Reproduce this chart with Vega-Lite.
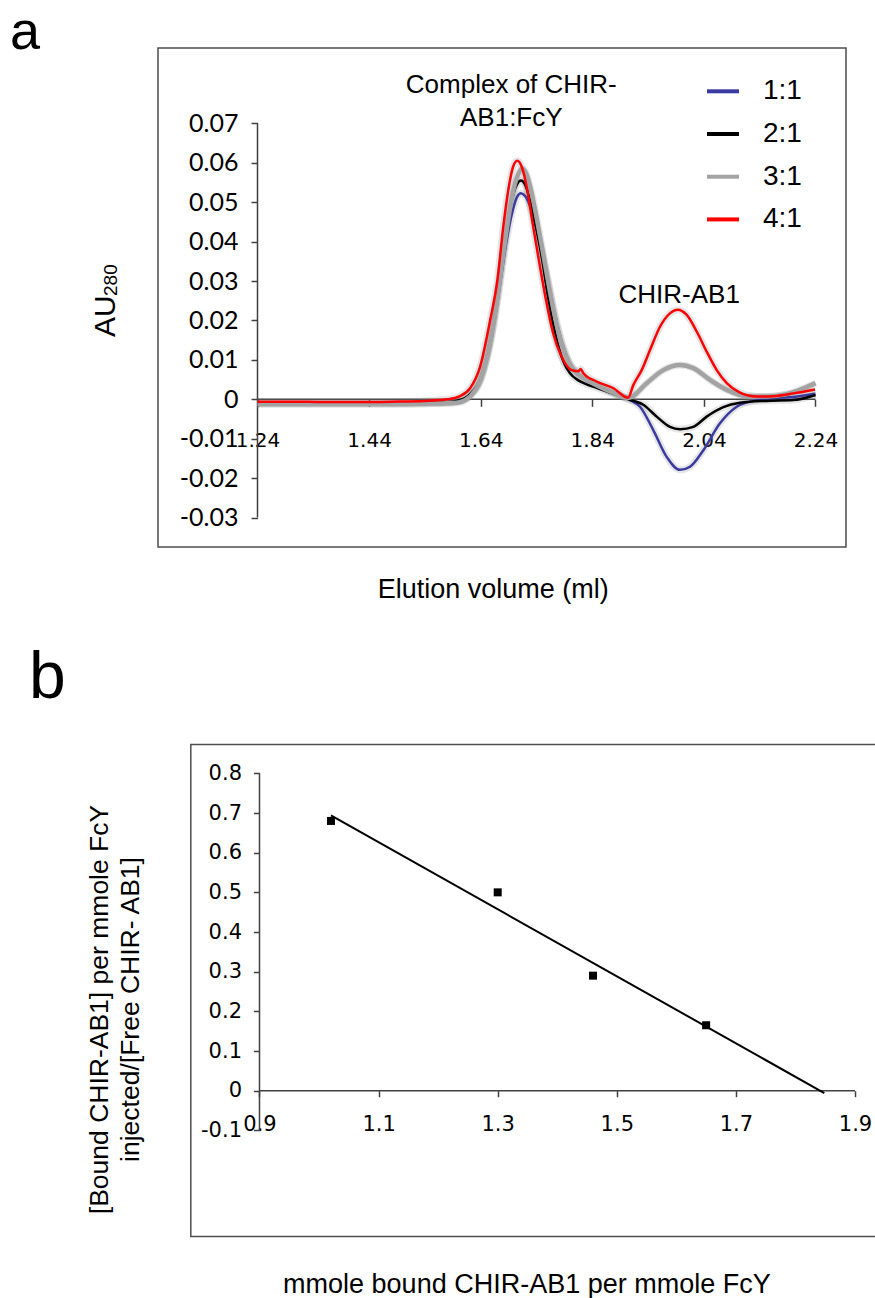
{
  "$schema": "https://vega.github.io/schema/vega-lite/v6.json",
  "width": 875,
  "height": 1298,
  "autosize": {"type": "none"},
  "padding": 0,
  "background": "white",
  "config": {"view": {"stroke": null}, "font": "Liberation Sans"},
  "datasets": {
    "sec": [
      {"ratio": "1:1", "vol": 1.24, "au": -0.0012}, {"ratio": "1:1", "vol": 1.30, "au": -0.0012}, {"ratio": "1:1", "vol": 1.36, "au": -0.0012}, {"ratio": "1:1", "vol": 1.42, "au": -0.0012}, {"ratio": "1:1", "vol": 1.48, "au": -0.0012}, {"ratio": "1:1", "vol": 1.54, "au": -0.0011}, {"ratio": "1:1", "vol": 1.58, "au": -0.0009}, {"ratio": "1:1", "vol": 1.60, "au": -0.0006}, {"ratio": "1:1", "vol": 1.62, "au": 0.0008}, {"ratio": "1:1", "vol": 1.64, "au": 0.0048}, {"ratio": "1:1", "vol": 1.655, "au": 0.0125}, {"ratio": "1:1", "vol": 1.665, "au": 0.0200}, {"ratio": "1:1", "vol": 1.675, "au": 0.0295}, {"ratio": "1:1", "vol": 1.685, "au": 0.0390}, {"ratio": "1:1", "vol": 1.695, "au": 0.0465}, {"ratio": "1:1", "vol": 1.705, "au": 0.0513}, {"ratio": "1:1", "vol": 1.712, "au": 0.0523}, {"ratio": "1:1", "vol": 1.72, "au": 0.0515}, {"ratio": "1:1", "vol": 1.73, "au": 0.0484}, {"ratio": "1:1", "vol": 1.74, "au": 0.0434}, {"ratio": "1:1", "vol": 1.75, "au": 0.0372}, {"ratio": "1:1", "vol": 1.76, "au": 0.0306}, {"ratio": "1:1", "vol": 1.77, "au": 0.0237}, {"ratio": "1:1", "vol": 1.78, "au": 0.0174}, {"ratio": "1:1", "vol": 1.79, "au": 0.0126}, {"ratio": "1:1", "vol": 1.80, "au": 0.0092}, {"ratio": "1:1", "vol": 1.815, "au": 0.0064}, {"ratio": "1:1", "vol": 1.83, "au": 0.0049}, {"ratio": "1:1", "vol": 1.85, "au": 0.0034}, {"ratio": "1:1", "vol": 1.875, "au": 0.0018}, {"ratio": "1:1", "vol": 1.905, "au": 0.0000}, {"ratio": "1:1", "vol": 1.9255, "au": -0.0019}, {"ratio": "1:1", "vol": 1.9493, "au": -0.0078}, {"ratio": "1:1", "vol": 1.9733, "au": -0.0146}, {"ratio": "1:1", "vol": 1.9972, "au": -0.0179}, {"ratio": "1:1", "vol": 2.0151, "au": -0.0171}, {"ratio": "1:1", "vol": 2.039, "au": -0.0129}, {"ratio": "1:1", "vol": 2.0688, "au": -0.0061}, {"ratio": "1:1", "vol": 2.0988, "au": -0.0019}, {"ratio": "1:1", "vol": 2.1286, "au": -0.0004}, {"ratio": "1:1", "vol": 2.1644, "au": 0.0003}, {"ratio": "1:1", "vol": 2.20, "au": 0.0006}, {"ratio": "1:1", "vol": 2.24, "au": 0.0014},
      {"ratio": "2:1", "vol": 1.24, "au": -0.0010}, {"ratio": "2:1", "vol": 1.30, "au": -0.0010}, {"ratio": "2:1", "vol": 1.36, "au": -0.0010}, {"ratio": "2:1", "vol": 1.42, "au": -0.0010}, {"ratio": "2:1", "vol": 1.48, "au": -0.0010}, {"ratio": "2:1", "vol": 1.54, "au": -0.0009}, {"ratio": "2:1", "vol": 1.58, "au": -0.0007}, {"ratio": "2:1", "vol": 1.60, "au": -0.0003}, {"ratio": "2:1", "vol": 1.62, "au": 0.0012}, {"ratio": "2:1", "vol": 1.64, "au": 0.0055}, {"ratio": "2:1", "vol": 1.655, "au": 0.0135}, {"ratio": "2:1", "vol": 1.665, "au": 0.0215}, {"ratio": "2:1", "vol": 1.675, "au": 0.0315}, {"ratio": "2:1", "vol": 1.685, "au": 0.0415}, {"ratio": "2:1", "vol": 1.695, "au": 0.0500}, {"ratio": "2:1", "vol": 1.705, "au": 0.0545}, {"ratio": "2:1", "vol": 1.712, "au": 0.0555}, {"ratio": "2:1", "vol": 1.72, "au": 0.0543}, {"ratio": "2:1", "vol": 1.73, "au": 0.0495}, {"ratio": "2:1", "vol": 1.74, "au": 0.0430}, {"ratio": "2:1", "vol": 1.75, "au": 0.0355}, {"ratio": "2:1", "vol": 1.76, "au": 0.0265}, {"ratio": "2:1", "vol": 1.77, "au": 0.0190}, {"ratio": "2:1", "vol": 1.78, "au": 0.0130}, {"ratio": "2:1", "vol": 1.79, "au": 0.0090}, {"ratio": "2:1", "vol": 1.80, "au": 0.0066}, {"ratio": "2:1", "vol": 1.815, "au": 0.0048}, {"ratio": "2:1", "vol": 1.83, "au": 0.0038}, {"ratio": "2:1", "vol": 1.85, "au": 0.0028}, {"ratio": "2:1", "vol": 1.875, "au": 0.0015}, {"ratio": "2:1", "vol": 1.905, "au": 0.0000}, {"ratio": "2:1", "vol": 1.9314, "au": -0.0014}, {"ratio": "2:1", "vol": 1.9554, "au": -0.0044}, {"ratio": "2:1", "vol": 1.9792, "au": -0.0070}, {"ratio": "2:1", "vol": 1.9972, "au": -0.0076}, {"ratio": "2:1", "vol": 2.021, "au": -0.0070}, {"ratio": "2:1", "vol": 2.045, "au": -0.0044}, {"ratio": "2:1", "vol": 2.0748, "au": -0.0020}, {"ratio": "2:1", "vol": 2.1047, "au": -0.0009}, {"ratio": "2:1", "vol": 2.1525, "au": -0.0004}, {"ratio": "2:1", "vol": 2.2002, "au": -0.0002}, {"ratio": "2:1", "vol": 2.24, "au": 0.0011},
      {"ratio": "3:1", "vol": 1.24, "au": -0.0012}, {"ratio": "3:1", "vol": 1.30, "au": -0.0012}, {"ratio": "3:1", "vol": 1.36, "au": -0.0012}, {"ratio": "3:1", "vol": 1.42, "au": -0.0012}, {"ratio": "3:1", "vol": 1.48, "au": -0.0012}, {"ratio": "3:1", "vol": 1.54, "au": -0.0011}, {"ratio": "3:1", "vol": 1.58, "au": -0.0010}, {"ratio": "3:1", "vol": 1.60, "au": -0.0008}, {"ratio": "3:1", "vol": 1.62, "au": 0.0006}, {"ratio": "3:1", "vol": 1.64, "au": 0.0050}, {"ratio": "3:1", "vol": 1.655, "au": 0.0130}, {"ratio": "3:1", "vol": 1.665, "au": 0.0210}, {"ratio": "3:1", "vol": 1.675, "au": 0.0310}, {"ratio": "3:1", "vol": 1.685, "au": 0.0415}, {"ratio": "3:1", "vol": 1.695, "au": 0.0505}, {"ratio": "3:1", "vol": 1.705, "au": 0.0563}, {"ratio": "3:1", "vol": 1.714, "au": 0.0585}, {"ratio": "3:1", "vol": 1.722, "au": 0.0572}, {"ratio": "3:1", "vol": 1.73, "au": 0.0532}, {"ratio": "3:1", "vol": 1.74, "au": 0.0462}, {"ratio": "3:1", "vol": 1.75, "au": 0.0385}, {"ratio": "3:1", "vol": 1.76, "au": 0.0305}, {"ratio": "3:1", "vol": 1.77, "au": 0.0230}, {"ratio": "3:1", "vol": 1.78, "au": 0.0167}, {"ratio": "3:1", "vol": 1.79, "au": 0.0121}, {"ratio": "3:1", "vol": 1.80, "au": 0.0089}, {"ratio": "3:1", "vol": 1.815, "au": 0.0063}, {"ratio": "3:1", "vol": 1.83, "au": 0.0049}, {"ratio": "3:1", "vol": 1.85, "au": 0.0034}, {"ratio": "3:1", "vol": 1.875, "au": 0.0018}, {"ratio": "3:1", "vol": 1.905, "au": 0.0003}, {"ratio": "3:1", "vol": 1.9375, "au": 0.0041}, {"ratio": "3:1", "vol": 1.9672, "au": 0.0074}, {"ratio": "3:1", "vol": 1.9972, "au": 0.0087}, {"ratio": "3:1", "vol": 2.021, "au": 0.0079}, {"ratio": "3:1", "vol": 2.051, "au": 0.0049}, {"ratio": "3:1", "vol": 2.0809, "au": 0.0024}, {"ratio": "3:1", "vol": 2.1167, "au": 0.0008}, {"ratio": "3:1", "vol": 2.1525, "au": 0.0007}, {"ratio": "3:1", "vol": 2.1884, "au": 0.0013}, {"ratio": "3:1", "vol": 2.24, "au": 0.0041},
      {"ratio": "4:1", "vol": 1.24, "au": -0.0006}, {"ratio": "4:1", "vol": 1.30, "au": -0.0006}, {"ratio": "4:1", "vol": 1.36, "au": -0.0007}, {"ratio": "4:1", "vol": 1.42, "au": -0.0007}, {"ratio": "4:1", "vol": 1.48, "au": -0.0006}, {"ratio": "4:1", "vol": 1.54, "au": -0.0004}, {"ratio": "4:1", "vol": 1.58, "au": 0.0000}, {"ratio": "4:1", "vol": 1.603, "au": 0.0008}, {"ratio": "4:1", "vol": 1.621, "au": 0.0028}, {"ratio": "4:1", "vol": 1.639, "au": 0.0083}, {"ratio": "4:1", "vol": 1.657, "au": 0.0201}, {"ratio": "4:1", "vol": 1.6697, "au": 0.0300}, {"ratio": "4:1", "vol": 1.6805, "au": 0.0438}, {"ratio": "4:1", "vol": 1.6895, "au": 0.0531}, {"ratio": "4:1", "vol": 1.698, "au": 0.0590}, {"ratio": "4:1", "vol": 1.7056, "au": 0.0605}, {"ratio": "4:1", "vol": 1.7135, "au": 0.0590}, {"ratio": "4:1", "vol": 1.7235, "au": 0.0531}, {"ratio": "4:1", "vol": 1.734, "au": 0.0438}, {"ratio": "4:1", "vol": 1.7463, "au": 0.0336}, {"ratio": "4:1", "vol": 1.757, "au": 0.0252}, {"ratio": "4:1", "vol": 1.770, "au": 0.0167}, {"ratio": "4:1", "vol": 1.785, "au": 0.0108}, {"ratio": "4:1", "vol": 1.803, "au": 0.0074}, {"ratio": "4:1", "vol": 1.815, "au": 0.0071}, {"ratio": "4:1", "vol": 1.819, "au": 0.0077}, {"ratio": "4:1", "vol": 1.824, "au": 0.0066}, {"ratio": "4:1", "vol": 1.848, "au": 0.0045}, {"ratio": "4:1", "vol": 1.878, "au": 0.0028}, {"ratio": "4:1", "vol": 1.904, "au": 0.0004}, {"ratio": "4:1", "vol": 1.9135, "au": 0.0036}, {"ratio": "4:1", "vol": 1.9285, "au": 0.0074}, {"ratio": "4:1", "vol": 1.9434, "au": 0.0125}, {"ratio": "4:1", "vol": 1.9613, "au": 0.0184}, {"ratio": "4:1", "vol": 1.9792, "au": 0.0218}, {"ratio": "4:1", "vol": 1.993, "au": 0.0227}, {"ratio": "4:1", "vol": 2.0092, "au": 0.0214}, {"ratio": "4:1", "vol": 2.0271, "au": 0.0172}, {"ratio": "4:1", "vol": 2.045, "au": 0.0121}, {"ratio": "4:1", "vol": 2.063, "au": 0.0074}, {"ratio": "4:1", "vol": 2.0809, "au": 0.0041}, {"ratio": "4:1", "vol": 2.1047, "au": 0.0017}, {"ratio": "4:1", "vol": 2.1346, "au": 0.0007}, {"ratio": "4:1", "vol": 2.1644, "au": 0.0008}, {"ratio": "4:1", "vol": 2.2002, "au": 0.0015}, {"ratio": "4:1", "vol": 2.2391, "au": 0.0025}
    ],
    "scat": [
      {"bound": 1.02, "ratio": 0.68},
      {"bound": 1.30, "ratio": 0.50},
      {"bound": 1.46, "ratio": 0.29},
      {"bound": 1.65, "ratio": 0.165}
    ],
    "fit": [
      {"bound": 1.02, "ratio": 0.694},
      {"bound": 1.8485, "ratio": -0.006}
    ],
    "one": [{}]
  },
  "layer": [
    {
      "layer": [
        {
          "data": {"name": "one"},
          "mark": {"type": "rect", "fillOpacity": 0, "stroke": "#4d4d4d", "strokeWidth": 1.5},
          "encoding": {
            "x": {"datum": 1.061684, "type": "quantitative", "title": "Elution volume (ml)", "scale": {"domain": [0.77853, 2.346631], "nice": false, "zero": false}},
            "x2": {"datum": 2.294659},
            "y": {"datum": 0.089117, "type": "quantitative", "title": null, "scale": {"domain": [-0.227981, 0.101294], "nice": false, "zero": false}},
            "y2": {"datum": -0.037468}
          }
        },
        {
          "data": {"name": "one"},
          "mark": {"type": "rule", "color": "#404040", "strokeWidth": 1.5},
          "encoding": {
            "x": {"datum": 1.24, "type": "quantitative", "title": "Elution volume (ml)", "scale": {"domain": [0.77853, 2.346631], "nice": false, "zero": false}},
            "y": {"datum": -0.03, "type": "quantitative", "title": null, "scale": {"domain": [-0.227981, 0.101294], "nice": false, "zero": false}},
            "y2": {"datum": 0.07}
          }
        },
        {
          "data": {"name": "one"},
          "mark": {"type": "rule", "color": "#404040", "strokeWidth": 1.5},
          "encoding": {
            "x": {"datum": 1.24, "type": "quantitative", "title": "Elution volume (ml)", "scale": {"domain": [0.77853, 2.346631], "nice": false, "zero": false}},
            "x2": {"datum": 2.24},
            "y": {"datum": 0, "type": "quantitative", "title": null, "scale": {"domain": [-0.227981, 0.101294], "nice": false, "zero": false}}
          }
        },
        {
          "data": {"name": "sec"},
          "mark": {"type": "line", "color": "#808080", "opacity": 0.2, "strokeWidth": 7, "interpolate": "monotone"},
          "encoding": {
            "x": {"field": "vol", "type": "quantitative", "title": "Elution volume (ml)", "scale": {"domain": [0.77853, 2.346631], "nice": false, "zero": false}},
            "y": {"field": "au", "type": "quantitative", "title": null, "scale": {"domain": [-0.227981, 0.101294], "nice": false, "zero": false}},
            "detail": {"field": "ratio"}
          }
        },
        {
          "data": {"name": "sec"},
          "mark": {"type": "line", "interpolate": "monotone"},
          "encoding": {
            "x": {
              "field": "vol", "type": "quantitative", "title": "Elution volume (ml)",
              "scale": {"domain": [0.77853, 2.346631], "nice": false, "zero": false},
              "axis": {
                "orient": "bottom", "offset": -898.7,
                "values": [1.24, 1.44, 1.64, 1.84, 2.04, 2.24],
                "labelExpr": "'' + datum.value",
                "domain": false, "grid": false,
                "tickSize": 7, "tickColor": "#404040", "tickWidth": 1.5,
                "labelFont": "DejaVu Sans", "labelFontSize": 20, "labelColor": "#000000",
                "labelPadding": 24, "labelOverlap": false, "labelFlush": false, "labelBound": false,
                "title": "Elution volume (ml)", "titleFont": "Liberation Sans", "titleFontSize": 27,
                "titleFontWeight": "normal", "titleColor": "#000000",
                "titleX": 492.8, "titleY": 198, "titleAlign": "center", "titleBaseline": "alphabetic", "titleAngle": 0
              }
            },
            "y": {
              "field": "au", "type": "quantitative", "title": null,
              "scale": {"domain": [-0.227981, 0.101294], "nice": false, "zero": false},
              "axis": {
                "orient": "left", "offset": -257.5,
                "values": [-0.03, -0.02, -0.01, 0, 0.01, 0.02, 0.03, 0.04, 0.05, 0.06, 0.07],
                "labelExpr": "'' + datum.value",
                "domain": false, "grid": false,
                "tickSize": 6.5, "tickColor": "#404040", "tickWidth": 1.5,
                "labelFont": "Lato", "labelFontSize": 25, "labelColor": "#000000",
                "labelPadding": 13, "labelOverlap": false, "labelFlush": false, "labelBound": false,
                "title": null
              }
            },
            "color": {
              "field": "ratio", "type": "nominal",
              "scale": {"domain": ["1:1", "2:1", "3:1", "4:1"], "range": ["#3a3aa0", "#000000", "#a3a3a3", "#ff0000"]},
              "legend": {
                "orient": "none", "legendX": 705, "legendY": 73.3, "direction": "vertical",
                "title": null, "padding": 0,
                "symbolType": "stroke", "symbolSize": 1024, "symbolStrokeWidth": 4, "symbolOpacity": 1,
                "labelFont": "Liberation Sans", "labelFontSize": 28, "labelColor": "#000000",
                "labelOffset": 22, "rowPadding": 10.7
              }
            },
            "strokeWidth": {"condition": {"test": "datum.ratio === '3:1'", "value": 4.5}, "value": 2.5}
          }
        },
        {
          "data": {"name": "one"},
          "mark": {"type": "text", "text": ["Complex of CHIR-", "AB1:FcY"], "font": "Liberation Sans", "fontSize": 26, "align": "center", "baseline": "alphabetic", "lineHeight": 33, "color": "#000000"},
          "encoding": {
            "x": {"datum": 1.694838, "type": "quantitative", "title": "Elution volume (ml)", "scale": {"domain": [0.77853, 2.346631], "nice": false, "zero": false}},
            "y": {"datum": 0.077626, "type": "quantitative", "title": null, "scale": {"domain": [-0.227981, 0.101294], "nice": false, "zero": false}}
          }
        },
        {
          "data": {"name": "one"},
          "mark": {"type": "text", "text": "CHIR-AB1", "font": "Liberation Sans", "fontSize": 26, "align": "center", "baseline": "alphabetic", "color": "#000000"},
          "encoding": {
            "x": {"datum": 1.995734, "type": "quantitative", "title": "Elution volume (ml)", "scale": {"domain": [0.77853, 2.346631], "nice": false, "zero": false}},
            "y": {"datum": 0.024353, "type": "quantitative", "title": null, "scale": {"domain": [-0.227981, 0.101294], "nice": false, "zero": false}}
          }
        },
        {
          "data": {"name": "one"},
          "mark": {"type": "text", "text": "AU", "font": "Liberation Sans", "fontSize": 30, "angle": 270, "align": "left", "baseline": "alphabetic", "color": "#000000"},
          "encoding": {
            "x": {"datum": 0.984623, "type": "quantitative", "title": "Elution volume (ml)", "scale": {"domain": [0.77853, 2.346631], "nice": false, "zero": false}},
            "y": {"datum": 0.015804, "type": "quantitative", "title": null, "scale": {"domain": [-0.227981, 0.101294], "nice": false, "zero": false}}
          }
        },
        {
          "data": {"name": "one"},
          "mark": {"type": "text", "text": "280", "font": "Liberation Sans", "fontSize": 19, "angle": 270, "align": "left", "baseline": "alphabetic", "color": "#000000"},
          "encoding": {
            "x": {"datum": 0.988207, "type": "quantitative", "title": "Elution volume (ml)", "scale": {"domain": [0.77853, 2.346631], "nice": false, "zero": false}},
            "y": {"datum": 0.026205, "type": "quantitative", "title": null, "scale": {"domain": [-0.227981, 0.101294], "nice": false, "zero": false}}
          }
        },
        {
          "data": {"name": "one"},
          "mark": {"type": "text", "text": "a", "font": "Liberation Sans", "fontSize": 54, "align": "left", "baseline": "alphabetic", "color": "#000000"},
          "encoding": {
            "x": {"datum": 0.796451, "type": "quantitative", "title": "Elution volume (ml)", "scale": {"domain": [0.77853, 2.346631], "nice": false, "zero": false}},
            "y": {"datum": 0.088864, "type": "quantitative", "title": null, "scale": {"domain": [-0.227981, 0.101294], "nice": false, "zero": false}}
          }
        }
      ]
    },
    {
      "layer": [
        {
          "data": {"name": "one"},
          "mark": {"type": "rect", "fillOpacity": 0, "stroke": "#4d4d4d", "strokeWidth": 1.5},
          "encoding": {
            "x": {"datum": 0.784635, "type": "quantitative", "title": "mmole bound CHIR-AB1 per mmole FcY", "scale": {"domain": [0.464232, 1.933585], "nice": false, "zero": false}},
            "x2": {"datum": 1.95},
            "y": {"datum": 0.8727, "type": "quantitative", "title": ["[Bound CHIR-AB1] per mmole FcY", "injected/[Free CHIR- AB1]"], "scale": {"domain": [-0.522561, 2.749433], "nice": false, "zero": false}},
            "y2": {"datum": -0.367532}
          }
        },
        {
          "data": {"name": "one"},
          "mark": {"type": "rule", "color": "#404040", "strokeWidth": 1.5},
          "encoding": {
            "x": {"datum": 0.9, "type": "quantitative", "title": "mmole bound CHIR-AB1 per mmole FcY", "scale": {"domain": [0.464232, 1.933585], "nice": false, "zero": false}},
            "y": {"datum": -0.1, "type": "quantitative", "title": ["[Bound CHIR-AB1] per mmole FcY", "injected/[Free CHIR- AB1]"], "scale": {"domain": [-0.522561, 2.749433], "nice": false, "zero": false}},
            "y2": {"datum": 0.8}
          }
        },
        {
          "data": {"name": "one"},
          "mark": {"type": "rule", "color": "#404040", "strokeWidth": 1.5},
          "encoding": {
            "x": {"datum": 0.9, "type": "quantitative", "title": "mmole bound CHIR-AB1 per mmole FcY", "scale": {"domain": [0.464232, 1.933585], "nice": false, "zero": false}},
            "x2": {"datum": 1.9},
            "y": {"datum": 0, "type": "quantitative", "title": ["[Bound CHIR-AB1] per mmole FcY", "injected/[Free CHIR- AB1]"], "scale": {"domain": [-0.522561, 2.749433], "nice": false, "zero": false}}
          }
        },
        {
          "data": {"name": "fit"},
          "mark": {"type": "line", "color": "#000000", "strokeWidth": 2},
          "encoding": {
            "x": {"field": "bound", "type": "quantitative", "title": "mmole bound CHIR-AB1 per mmole FcY", "scale": {"domain": [0.464232, 1.933585], "nice": false, "zero": false}},
            "y": {"field": "ratio", "type": "quantitative", "title": ["[Bound CHIR-AB1] per mmole FcY", "injected/[Free CHIR- AB1]"], "scale": {"domain": [-0.522561, 2.749433], "nice": false, "zero": false}}
          }
        },
        {
          "data": {"name": "scat"},
          "mark": {"type": "point", "shape": "square", "filled": true, "color": "#000000", "size": 64, "opacity": 1},
          "encoding": {
            "x": {
              "field": "bound", "type": "quantitative", "title": "mmole bound CHIR-AB1 per mmole FcY",
              "scale": {"domain": [0.464232, 1.933585], "nice": false, "zero": false},
              "axis": {
                "orient": "bottom", "offset": -207.3,
                "values": [0.9, 1.1, 1.3, 1.5, 1.7, 1.9],
                "labelExpr": "'' + datum.value",
                "domain": false, "grid": false,
                "tickSize": 6, "tickColor": "#404040", "tickWidth": 1.5,
                "labelFont": "DejaVu Sans", "labelFontSize": 21, "labelColor": "#000000",
                "labelPadding": 17, "labelOverlap": false, "labelFlush": false, "labelBound": false,
                "title": "mmole bound CHIR-AB1 per mmole FcY", "titleFont": "Liberation Sans", "titleFontSize": 27,
                "titleFontWeight": "normal", "titleColor": "#000000",
                "titleX": 526.4, "titleY": 201.8, "titleAlign": "center", "titleBaseline": "alphabetic", "titleAngle": 0
              }
            },
            "y": {
              "field": "ratio", "type": "quantitative", "title": ["[Bound CHIR-AB1] per mmole FcY", "injected/[Free CHIR- AB1]"],
              "scale": {"domain": [-0.522561, 2.749433], "nice": false, "zero": false},
              "axis": {
                "orient": "left", "offset": -259.5,
                "values": [-0.1, 0, 0.1, 0.2, 0.3, 0.4, 0.5, 0.6, 0.7, 0.8],
                "labelExpr": "'' + datum.value",
                "domain": false, "grid": false,
                "tickSize": 6, "tickColor": "#404040", "tickWidth": 1.5,
                "labelFont": "DejaVu Sans", "labelFontSize": 21, "labelColor": "#000000",
                "labelPadding": 12, "labelOverlap": false, "labelFlush": false, "labelBound": false,
                "title": ["[Bound CHIR-AB1] per mmole FcY", "injected/[Free CHIR- AB1]"],
                "titleFont": "Liberation Sans", "titleFontSize": 26.5, "titleFontWeight": "normal", "titleColor": "#000000",
                "titleX": -152.5, "titleY": 1009, "titleAngle": 270, "titleAlign": "center", "titleBaseline": "alphabetic", "titleLineHeight": 31
              }
            }
          }
        },
        {
          "data": {"name": "one"},
          "mark": {"type": "text", "text": "b", "font": "Liberation Sans", "fontSize": 66, "align": "left", "baseline": "alphabetic", "color": "#000000"},
          "encoding": {
            "x": {"datum": 0.512931, "type": "quantitative", "title": "mmole bound CHIR-AB1 per mmole FcY", "scale": {"domain": [0.464232, 1.933585], "nice": false, "zero": false}},
            "y": {"datum": 0.989917, "type": "quantitative", "title": ["[Bound CHIR-AB1] per mmole FcY", "injected/[Free CHIR- AB1]"], "scale": {"domain": [-0.522561, 2.749433], "nice": false, "zero": false}}
          }
        }
      ]
    }
  ],
  "resolve": {"scale": {"x": "independent", "y": "independent"}}
}
